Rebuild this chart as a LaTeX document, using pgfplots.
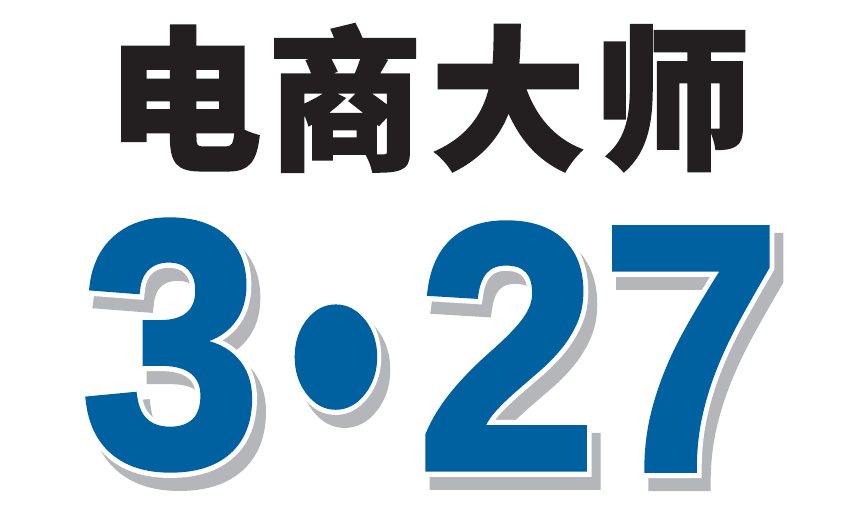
\documentclass[border=0pt]{standalone}
\usepackage{fontspec}
\usepackage{pgfplots}
\pgfplotsset{compat=1.18}
\newfontfamily\cjk{Noto Sans CJK SC}[BoldFeatures={FakeBold=1.5}]
\newfontfamily\digfont{Liberation Sans}[UprightFont=* Bold, FakeBold=2]
\newfontfamily\digwhite{Liberation Sans}[UprightFont=* Bold, FakeBold=5]
\definecolor{logoblue}{HTML}{0061A0}
\definecolor{logogray}{HTML}{B4B6B9}
\definecolor{logoblack}{HTML}{231F20}
\newcommand{\bigdig}{\fontsize{350}{350}\selectfont}
\newcommand{\bigcjk}{\fontsize{155}{155}\selectfont}
\begin{document}
\begin{tikzpicture}
\begin{axis}[
hide axis,
scale only axis,
width=864pt,height=511pt,
xmin=0,xmax=864,ymin=0,ymax=511,
y dir=reverse,
clip=false,
]
\addplot[draw=none] coordinates {(0,0) (864,511)};
% title characters
\foreach \c/\x in {电/184,商/345,大/508,师/673}{
  \edef\temp{\noexpand\node[overlay,inner sep=0,text=logoblack,font=\noexpand\cjk\noexpand\bfseries\noexpand\bigcjk] at (axis cs:\x,98) {\c};}
  \temp
}
% digits: shadow, white outline, blue
\foreach \d/\x/\y in {3/171/345,2/507/346,7/691/349}{
  \edef\temp{%
  \noexpand\node[overlay,inner sep=0,text=logogray,font=\noexpand\digwhite\noexpand\bigdig] at (axis cs:\x+9,\y+13) {\noexpand\scalebox{0.92}[1]{\d}};
  \noexpand\node[overlay,inner sep=0,text=white,font=\noexpand\digwhite\noexpand\bigdig] at (axis cs:\x,\y) {\noexpand\scalebox{0.92}[1]{\d}};
  \noexpand\node[overlay,inner sep=0,text=logoblue,font=\noexpand\digfont\noexpand\bigdig] at (axis cs:\x,\y) {\noexpand\scalebox{0.92}[1]{\d}};}
  \temp
}
\node[overlay,inner sep=0,text=logogray,font=\digwhite\bigdig] at (axis cs:345,402) {\scalebox{0.77}[0.98]{•}};
\node[overlay,inner sep=0,text=white,font=\digwhite\bigdig] at (axis cs:336,389) {\scalebox{0.77}[0.98]{•}};
\node[overlay,inner sep=0,text=logoblue,font=\digfont\bigdig] at (axis cs:336,389) {\scalebox{0.77}[0.98]{•}};
\end{axis}
\end{tikzpicture}
\end{document}
